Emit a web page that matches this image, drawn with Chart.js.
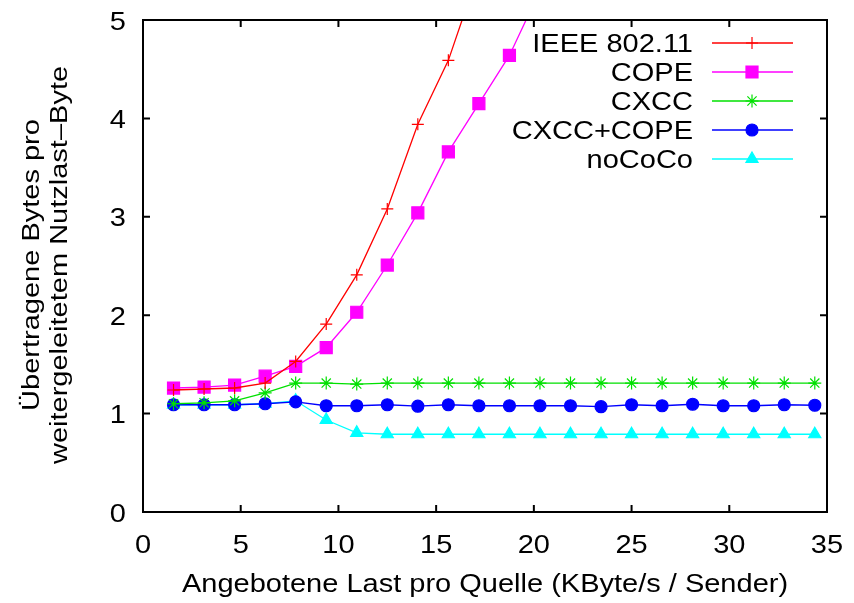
<!DOCTYPE html>
<html lang="de">
<head>
<meta charset="UTF-8">
<title>Übertragene Bytes pro weitergeleitetem Nutzlast-Byte</title>
<script src="https://cdn.jsdelivr.net/npm/chart.js@4/dist/chart.umd.min.js"></script>
<style>
  html, body { margin: 0; padding: 0; background: #fff; }
  #wrap { width: 854px; height: 603px; }
</style>
</head>
<body>
<div id="wrap"><canvas id="chart"></canvas></div>
<script>
// angebotene Last pro Quelle (KByte/s / Sender)
const load = [1.5625, 3.125, 4.6875, 6.25, 7.8125, 9.375, 10.9375, 12.5, 14.0625, 15.625, 17.1875,
              18.75, 20.3125, 21.875, 23.4375, 25, 26.5625, 28.125, 29.6875, 31.25, 32.8125, 34.375];

// übertragene Bytes pro weitergeleitetem Nutzlast-Byte
const ieee80211 = [1.24, 1.25, 1.26, 1.31, 1.53, 1.91, 2.41, 3.08, 3.94, 4.59, 5.50];
const cope      = [1.26, 1.27, 1.29, 1.38, 1.48, 1.67, 2.03, 2.51, 3.04, 3.66, 4.15, 4.64, 5.30];
const cxcc      = [1.10, 1.11, 1.13, 1.21, 1.31, 1.31, 1.30, 1.31, 1.31, 1.31, 1.31,
                   1.31, 1.31, 1.31, 1.31, 1.31, 1.31, 1.31, 1.31, 1.31, 1.31, 1.31];
const cxccCope  = [1.09, 1.09, 1.09, 1.10, 1.12, 1.08, 1.08, 1.09, 1.075, 1.09, 1.08,
                   1.08, 1.08, 1.08, 1.07, 1.09, 1.08, 1.095, 1.08, 1.08, 1.09, 1.085];
const noCoCo    = [1.09, 1.09, 1.09, 1.10, 1.13, 0.935, 0.805, 0.79, 0.79, 0.79, 0.79,
                   0.79, 0.79, 0.79, 0.79, 0.79, 0.79, 0.79, 0.79, 0.79, 0.79, 0.79];

const xTicks = [0, 5, 10, 15, 20, 25, 30, 35];
const yTicks = [0, 1, 2, 3, 4, 5];

const xTitle = 'Angebotene Last pro Quelle (KByte/s / Sender)';
const yTitle = ['Übertragene Bytes pro', 'weitergeleitetem Nutzlast–Byte'];

const FONT = '"Liberation Sans", Arial, Helvetica, sans-serif';
const FS = 29;     // one font size for everything, like gnuplot
const SQ = 0.88;   // glyphs in the reference are a little squat

function points(vals) {
    return vals.map((v, i) => ({ x: load[i], y: v }));
}

function series(label, vals, color, style, radius) {
    return {
        label: label,
        data: points(vals),
        borderColor: color,
        backgroundColor: color,
        pointStyle: style,
        pointRadius: radius,
        pointBorderWidth: 1.2,
        pointBorderColor: color,
        pointBackgroundColor: color,
        borderWidth: 1.3,
        tension: 0,
        fill: false,
        clip: 0
    };
}

// text with its own height scaled by sy
function txt(ctx, s, x, y, size, align, sy, rot) {
    ctx.save();
    ctx.translate(x, y);
    if (rot) ctx.rotate(rot);
    ctx.scale(1, sy);
    ctx.font = size + 'px ' + FONT;
    ctx.textAlign = align;
    ctx.textBaseline = 'alphabetic';
    ctx.fillStyle = '#000';
    ctx.fillText(s, 0, 0);
    ctx.restore();
}

const gnuplotFrame = {
    id: 'gnuplotFrame',
    afterDatasetsDraw(chart) {
        const ctx = chart.ctx;
        const a = chart.chartArea;
        const xs = chart.scales.x, ys = chart.scales.y;
        const tick = 7;
        ctx.save();
        ctx.strokeStyle = '#000';
        ctx.lineWidth = 2;
        ctx.strokeRect(a.left, a.top, a.right - a.left, a.bottom - a.top);
        ctx.beginPath();
        xs.ticks.forEach(t => {
            const px = xs.getPixelForValue(t.value);
            ctx.moveTo(px, a.bottom); ctx.lineTo(px, a.bottom - tick);
            ctx.moveTo(px, a.top); ctx.lineTo(px, a.top + tick);
        });
        ys.ticks.forEach(t => {
            const py = ys.getPixelForValue(t.value);
            ctx.moveTo(a.left, py); ctx.lineTo(a.left + tick, py);
            ctx.moveTo(a.right, py); ctx.lineTo(a.right - tick, py);
        });
        ctx.stroke();
        ctx.restore();

        // tick labels
        xs.ticks.forEach(t => {
            txt(ctx, String(t.value), xs.getPixelForValue(t.value), a.bottom + 41, FS, 'center', SQ);
        });
        ys.ticks.forEach(t => {
            txt(ctx, String(t.value), a.left - 17, ys.getPixelForValue(t.value) + 9.5, FS, 'right', SQ);
        });

        // axis titles
        txt(ctx, xTitle, (a.left + a.right) / 2, 592, FS, 'center', SQ);
        txt(ctx, yTitle[0], 39, 265, FS, 'center', 0.85, -Math.PI / 2);
        txt(ctx, yTitle[1], 67, 265, FS, 'center', 0.85, -Math.PI / 2);

        // key: text right aligned, sample line with point to the right
        const rowY = [43, 72, 101, 130, 159];
        chart.data.datasets.forEach((ds, i) => {
            const y = rowY[i];
            txt(ctx, ds.label, 693, y + 9, FS, 'right', SQ);
            ctx.save();
            ctx.strokeStyle = ds.borderColor;
            ctx.fillStyle = ds.backgroundColor;
            ctx.lineWidth = ds.borderWidth;
            ctx.beginPath();
            ctx.moveTo(712, y);
            ctx.lineTo(793, y);
            ctx.stroke();
            ctx.lineWidth = ds.pointBorderWidth;
            if (Chart.helpers && Chart.helpers.drawPoint) {
                Chart.helpers.drawPoint(ctx, {
                    pointStyle: ds.pointStyle,
                    radius: ds.pointRadius,
                    rotation: 0,
                    borderWidth: ds.pointBorderWidth
                }, 752, y);
            }
            ctx.restore();
        });
    }
};

const ctx = document.getElementById('chart').getContext('2d');

new Chart(ctx, {
    type: 'line',
    data: {
        datasets: [
            series('IEEE 802.11', ieee80211, '#ff0000', 'cross', 6),
            series('COPE', cope, '#ff00ff', 'rect', 8.5),
            series('CXCC', cxcc, '#00e000', 'star', 6.5),
            series('CXCC+COPE', cxccCope, '#0000ff', 'circle', 6),
            series('noCoCo', noCoCo, '#00ffff', 'triangle', 7)
        ]
    },
    options: {
        responsive: true,
        maintainAspectRatio: false,
        animation: false,
        layout: { padding: { left: 0, right: 27, top: 20, bottom: 0 } },
        plugins: {
            legend: { display: false },
            tooltip: { enabled: false }
        },
        scales: {
            x: {
                type: 'linear',
                min: 0,
                max: 35,
                grid: { display: false, drawTicks: false },
                border: { display: false },
                ticks: { display: false },
                afterBuildTicks: s => { s.ticks = xTicks.map(v => ({ value: v })); },
                afterFit: s => { s.height = 91; }
            },
            y: {
                min: 0,
                max: 5,
                grid: { display: false, drawTicks: false },
                border: { display: false },
                ticks: { display: false },
                afterBuildTicks: s => { s.ticks = yTicks.map(v => ({ value: v })); },
                afterFit: s => { s.width = 143; }
            }
        }
    },
    plugins: [gnuplotFrame]
});
</script>
</body>
</html>
